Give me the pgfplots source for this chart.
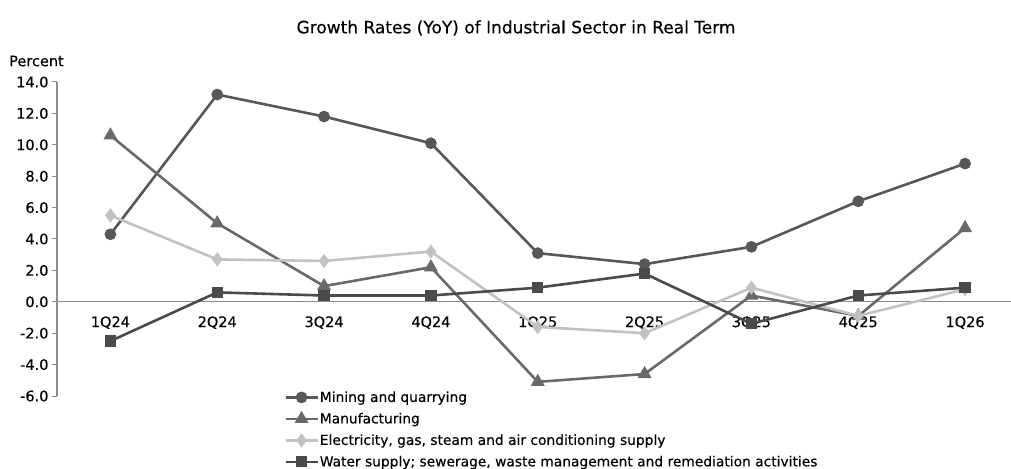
\documentclass[border=0pt]{standalone}
\usepackage{pgfplots}
\pgfplotsset{compat=1.18}
\usepackage{fontspec}
\setmainfont{DejaVu Sans}[FakeBold=0.3]
\definecolor{cmin}{HTML}{575757}
\definecolor{cman}{HTML}{696969}
\definecolor{cele}{HTML}{C2C2C2}
\definecolor{cwat}{HTML}{4A4A4A}
\definecolor{caxis}{HTML}{8C8C8C}
\begin{document}
\begin{tikzpicture}
\path[use as bounding box] (0,0) rectangle (1011bp,469bp);
\node[font=\fontsize{17bp}{19bp}\selectfont, anchor=center] at (516bp,441bp) {Growth Rates (YoY) of Industrial Sector in Real Term};
\node[font=\fontsize{14.5bp}{16bp}\selectfont, anchor=west, inner sep=0pt] at (9bp,408bp) {Percent};
\begin{axis}[
  at={(57bp,73bp)}, anchor=south west,
  scale only axis, width=954bp, height=314bp,
  xmin=-0.5, xmax=8.43, ymin=-6, ymax=14,
  axis y line=left, axis x line=middle,
  axis line style={caxis, line width=1.2bp, -},
  clip=false,
  xtick={0,...,8},
  xticklabels={1Q24,2Q24,3Q24,4Q24,1Q25,2Q25,3Q25,4Q25,1Q26},
  x tick style={draw=none},
  extra x ticks={0.5,1.5,2.5,3.5,4.5,5.5,6.5,7.5},
  extra x tick labels={},
  extra x tick style={major tick length=6bp, tick align=outside, tick style={draw=caxis, line width=1bp}},
  xticklabel style={font=\fontsize{14.5bp}{16bp}\selectfont, yshift=-6bp},
  ytick={-6,-4,...,14},
  yticklabel style={font=\fontsize{14.5bp}{16bp}\selectfont},
  y tick style={draw=caxis, line width=1bp},
  major tick length=5bp, tick align=outside,
  /pgf/number format/.cd, fixed, fixed zerofill, precision=1, assume math mode=true,
  /pgfplots/.cd,
  legend style={draw=none, fill=none, at={(0.238,0.02)}, anchor=north west,
    font=\fontsize{13.8bp}{16bp}\selectfont, row sep=6.5bp, inner sep=0pt,
    nodes={inner xsep=1bp, inner ysep=1.5bp}},
  legend cell align=left,
  legend image code/.code={\draw[mark repeat=2,mark phase=2,#1] plot coordinates {(0bp,0bp) (16bp,0bp) (32bp,0bp)};},
  every axis plot/.append style={line width=2.6bp},
]
\addplot[cmin, mark=*, mark size=4.5bp, mark options={solid}] coordinates {
 (0,4.3) (1,13.2) (2,11.8) (3,10.1) (4,3.1) (5,2.4) (6,3.5) (7,6.4) (8,8.8)};
\addlegendentry{Mining and quarrying}
\addplot[cman, mark=triangle*, mark size=5.5bp] coordinates {
 (0,10.6) (1,5.0) (2,1.0) (3,2.2) (4,-5.1) (5,-4.6) (6,0.4) (7,-0.9) (8,4.7)};
\addlegendentry{Manufacturing}
\addplot[cele, mark=diamond*, mark size=5bp] coordinates {
 (0,5.5) (1,2.7) (2,2.6) (3,3.2) (4,-1.6) (5,-2.0) (6,0.9) (7,-0.9) (8,0.8)};
\addlegendentry{Electricity, gas, steam and air conditioning supply}
\addplot[cwat, mark=square*, mark size=4.3bp] coordinates {
 (0,-2.5) (1,0.6) (2,0.4) (3,0.4) (4,0.9) (5,1.8) (6,-1.4) (7,0.4) (8,0.9)};
\addlegendentry{Water supply; sewerage, waste management and remediation activities}
\end{axis}
\end{tikzpicture}
\end{document}
